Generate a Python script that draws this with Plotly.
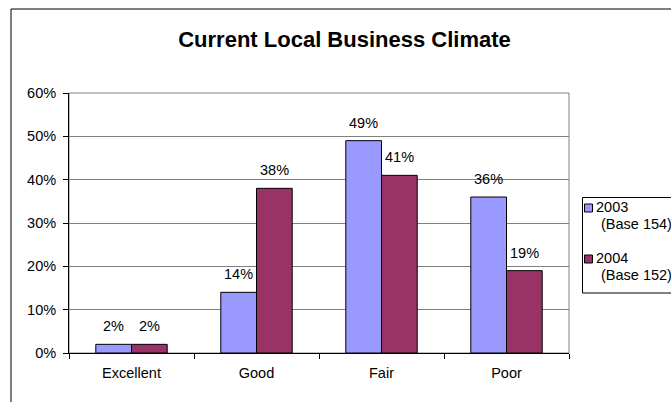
import plotly.graph_objects as go

categories = ["Excellent", "Good", "Fair", "Poor"]
values_2003 = [0.02, 0.14, 0.49, 0.36]
values_2004 = [0.02, 0.38, 0.41, 0.19]
series_years = ["2003", "2004"]
series_bases = ["(Base 154)", "(Base 152)"]
series_colors = ["#9999FF", "#993366"]
labels_2003 = ["2%", "14%", "49%", "36%"]
labels_2004 = ["2%", "38%", "41%", "19%"]
title_text = "Current Local Business Climate"

FONT = "Liberation Sans, Arial, sans-serif"
FS = 14.5

W, H = 671, 402
ML, MR, MT, MB = 69, 102, 93, 49
PW, PH = W - ML - MR, H - MT - MB
BARGAP = 1.5 / 3.5


def px(x):
    return (x - ML) / PW


def py(y):
    return (H - MB - y) / PH


series_values = [values_2003, values_2004]
series_labels = [labels_2003, labels_2004]

fig = go.Figure()
for name, vals, col in zip(series_years, series_values, series_colors):
    fig.add_trace(go.Bar(
        x=categories, y=vals, name=name,
        marker=dict(color=col, line=dict(color="black", width=1)),
        hoverinfo="x+y",
    ))

# data labels above each bar
cat_w = PW / len(categories)
bar_w = cat_w * (1 - BARGAP) / len(series_values)
annotations = []
for i, (vals, labs) in enumerate(zip(series_values, series_labels)):
    shift = (i - (len(series_values) - 1) / 2) * bar_w
    for c, v, t in zip(categories, vals, labs):
        annotations.append(dict(
            x=c, y=v, xref="x", yref="y", text=t, showarrow=False,
            xanchor="center", yanchor="bottom", xshift=shift, yshift=8,
            font=dict(family=FONT, size=FS, color="black"),
        ))

# custom legend (Excel style)
legend_rows = [(207, 224), (258, 275)]
shapes = [
    dict(type="rect", xref="paper", yref="paper", x0=0, x1=1, y0=0, y1=1,
         line=dict(color="#808080", width=1), layer="below"),
    dict(type="rect", xref="paper", yref="paper",
         x0=px(11), x1=px(W + 40), y0=py(H + 40), y1=py(9),
         line=dict(color="black", width=1), layer="below"),
    dict(type="rect", xref="paper", yref="paper",
         x0=px(582.5), x1=px(W + 40), y0=py(293), y1=py(197.5),
         line=dict(color="black", width=1), fillcolor="white", layer="above"),
]
for (y1, y2), yr, base, col in zip(legend_rows, series_years, series_bases, series_colors):
    shapes.append(dict(type="rect", xref="paper", yref="paper",
                       x0=px(584.5), x1=px(592.5), y0=py(y1 + 5), y1=py(y1 - 3),
                       line=dict(color="black", width=1), fillcolor=col, layer="above"))
    annotations.append(dict(x=px(594), y=py(y1), xref="paper", yref="paper",
                            text=yr, showarrow=False, xanchor="left", yanchor="middle",
                            font=dict(family=FONT, size=FS, color="black")))
    annotations.append(dict(x=px(598.5), y=py(y2), xref="paper", yref="paper",
                            text=base, showarrow=False, xanchor="left", yanchor="middle",
                            font=dict(family=FONT, size=FS, color="black")))

fig.update_layout(
    width=W, height=H,
    margin=dict(l=ML, r=MR, t=MT, b=MB, autoexpand=False),
    paper_bgcolor="white", plot_bgcolor="white",
    font=dict(family=FONT, size=FS, color="black"),
    barmode="group", bargap=BARGAP, bargroupgap=0,
    title=dict(text="<b>" + title_text + "</b>", x=344.5 / W, xanchor="center",
               y=1 - 39.5 / H, yanchor="middle", yref="container",
               font=dict(family=FONT, size=22, color="black")),
    showlegend=False,
    xaxis=dict(showline=True, linecolor="black", linewidth=1,
               ticks="outside", ticklen=5, tickcolor="black",
               tickson="boundaries", showgrid=False, ticklabelstandoff=7,
               tickfont=dict(family=FONT, size=FS, color="black")),
    yaxis=dict(range=[0, 0.6], dtick=0.1, tickformat=".0%",
               showline=True, linecolor="black", linewidth=1,
               ticks="outside", ticklen=5, tickcolor="black",
               showgrid=True, gridcolor="#808080", gridwidth=1,
               zeroline=False, ticklabelstandoff=4,
               tickfont=dict(family=FONT, size=FS, color="black")),
    shapes=shapes,
    annotations=annotations,
)

fig.write_html("out.html", config={"displayModeBar": False},
               post_script="document.body.style.margin='0';document.body.style.overflow='hidden';")
